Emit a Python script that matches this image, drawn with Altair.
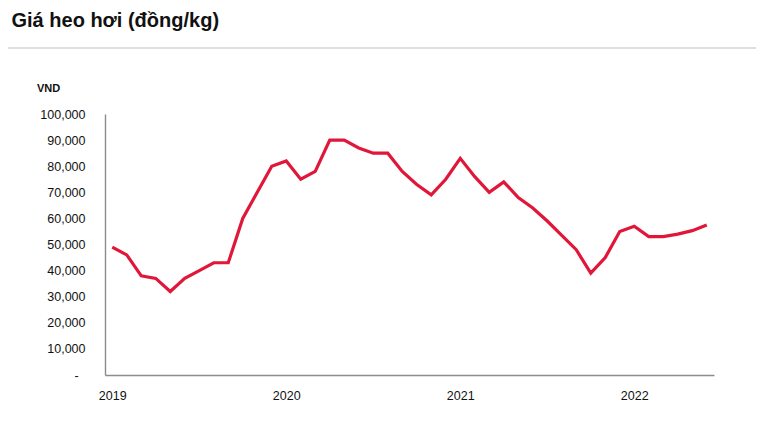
import altair as alt
import pandas as pd

# ---- data ----
title_text = "Giá heo hơi (đồng/kg)"
unit_text = "VND"
months = [
    "2019-01", "2019-02", "2019-03", "2019-04", "2019-05", "2019-06",
    "2019-07", "2019-08", "2019-09", "2019-10", "2019-11", "2019-12",
    "2020-01", "2020-02", "2020-03", "2020-04", "2020-05", "2020-06",
    "2020-07", "2020-08", "2020-09", "2020-10", "2020-11", "2020-12",
    "2021-01", "2021-02", "2021-03", "2021-04", "2021-05", "2021-06",
    "2021-07", "2021-08", "2021-09", "2021-10", "2021-11", "2021-12",
    "2022-01", "2022-02", "2022-03", "2022-04", "2022-05", "2022-06",
]
prices = [
    49000, 46000, 38000, 37000, 32000, 37000, 40000, 43000, 43000, 60000, 70000, 80000,
    82000, 75000, 78000, 90000, 90000, 87000, 85000, 85000, 78000, 73000, 69000, 75000,
    83000, 76000, 70000, 74000, 68000, 64000, 59000, 53500, 48000, 39000, 45000, 55000,
    57000, 53000, 53000, 54000, 55300, 57500,
]
year_tick_idx = [0, 12, 24, 36]
y_ticks = [0, 10000, 20000, 30000, 40000, 50000, 60000, 70000, 80000, 90000, 100000]

df = pd.DataFrame({"month": months, "price": prices, "idx": list(range(len(months)))})

TITLE_FONT = "Liberation Sans, Arial, sans-serif"
LABEL_FONT = "Liberation Sans, Arial, sans-serif"

line = alt.Chart(df).mark_line(color="#E1173A", strokeWidth=3.2, strokeJoin="miter").encode(
    x=alt.X(
        "idx:Q",
        scale=alt.Scale(domain=[-0.5, len(months) - 0.5], nice=False, zero=False),
        axis=alt.Axis(
            values=year_tick_idx,
            labelExpr="toString(2019 + floor(datum.value / 12))",
            title=None,
            grid=False,
            ticks=False,
            domainColor="#8c8c8c",
            domainWidth=1.4,
            labelPadding=14,
            labelFont=LABEL_FONT,
            labelFontSize=12.5,
            labelColor="#111111",
        ),
    ),
    y=alt.Y(
        "price:Q",
        scale=alt.Scale(domain=[0, 100000], nice=False),
        axis=alt.Axis(
            values=y_ticks,
            labelExpr="datum.value === 0 ? '-\u2007\u200b' : format(datum.value, ',')",
            title=None,
            grid=False,
            ticks=False,
            domainColor="#8c8c8c",
            domainWidth=1.4,
            labelPadding=20,
            labelFont=LABEL_FONT,
            labelFontSize=12.5,
            labelColor="#111111",
        ),
    ),
)

title = alt.Chart(pd.DataFrame({"t": [title_text]})).mark_text(
    align="left", baseline="alphabetic", font=TITLE_FONT, fontSize=20, fontWeight="bold", color="#111111"
).encode(text="t:N", x=alt.value(-93.5), y=alt.value(-86.8))

unit = alt.Chart(pd.DataFrame({"t": [unit_text]})).mark_text(
    align="left", baseline="alphabetic", font=TITLE_FONT, fontSize=11, fontWeight="bold", color="#111111"
).encode(text="t:N", x=alt.value(-68), y=alt.value(-22.5))

sep = alt.Chart(pd.DataFrame({"t": [0]})).mark_rule(color="#d4d4d4", strokeWidth=1.5).encode(
    x=alt.value(-97), x2=alt.value(651), y=alt.value(-66)
)

chart = alt.layer(sep, title, unit, line).properties(
    width=609,
    height=261,
    autosize=alt.AutoSizeParams(type="none"),
    padding={"left": 97, "top": 106, "right": 43, "bottom": 39},
).configure_view(stroke=None)

chart.save("out.html", embed_options={"renderer": "svg", "actions": False})
